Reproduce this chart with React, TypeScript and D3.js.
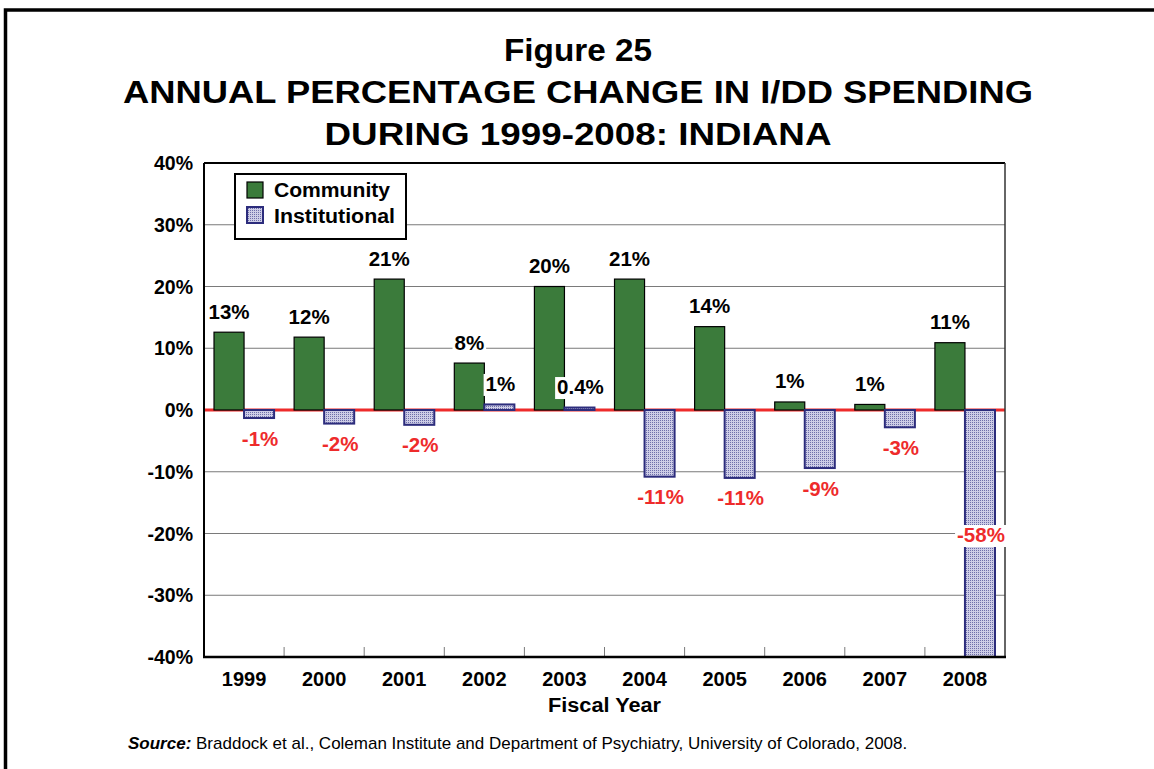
import React from 'react';
import * as d3 from 'd3';

const years = ['1999', '2000', '2001', '2002', '2003', '2004', '2005', '2006', '2007', '2008'];
const community = [12.6, 11.8, 21.2, 7.6, 20.0, 21.2, 13.5, 1.3, 0.9, 10.9];
const institutional = [-1.3, -2.2, -2.4, 0.9, 0.4, -10.8, -11.0, -9.4, -2.8, -58.0];
const communityLabels = ['13%', '12%', '21%', '8%', '20%', '21%', '14%', '1%', '1%', '11%'];
const institutionalLabels = ['-1%', '-2%', '-2%', '1%', '0.4%', '-11%', '-11%', '-9%', '-3%', '-58%'];
const yTicks = [40, 30, 20, 10, 0, -10, -20, -30, -40];
const titleLines = ['Figure 25', 'ANNUAL PERCENTAGE CHANGE IN I/DD SPENDING', 'DURING 1999-2008: INDIANA'];

const FONT = '"Liberation Sans", Arial, Helvetica, sans-serif';
const GREEN = '#3B7B3B';
const NAVY = '#2C2C7C';
const RED = '#EE2B2B';

const charW: Record<string, number> = { '%': 0.889, '-': 0.333, '.': 0.278 };
const textWidth = (s: string, size: number) =>
  s.split('').reduce((a, c) => a + (charW[c] ?? 0.556), 0) * size;

export default function App() {
  const W = 1154, H = 769;
  const left = 204, right = 1005, top = 163, bottom = 657;
  const x = d3.scaleBand<string>().domain(years).range([left, right]).paddingInner(0).paddingOuter(0);
  const y = d3.scaleLinear().domain([-40, 40]).range([bottom, top]).clamp(true);
  const bw = x.bandwidth() * 0.375;
  const fs = 19.5;
  const lfs = 20.5;

  const labels: { text: string; cx: number; base: number; color: string }[] = [];
  years.forEach((yr, i) => {
    const c = x(yr)! + x.bandwidth() / 2;
    const v1 = community[i];
    labels.push({ text: communityLabels[i], cx: c - bw / 2, base: v1 >= 0 ? y(v1) - 13.5 : y(v1) + 27.5, color: '#000' });
    const v2 = institutional[i];
    let base: number;
    if (v2 < -40) base = y((0 + -40) / 2) + 8.5;
    else if (v2 >= 0) base = y(v2) - 13.5;
    else base = y(v2) + 27.5;
    labels.push({ text: institutionalLabels[i], cx: c + bw / 2 + 1, base, color: v2 < 0 ? RED : '#000' });
  });

  const titleLens = [148, 910, 507];

  return (
    <svg width={W} height={H} style={{ position: 'absolute', left: 0, top: 0, background: '#fff' }} fontFamily={FONT}>
      <defs>
        <pattern id="dots" width="2" height="2" patternUnits="userSpaceOnUse">
          <rect width="2" height="2" fill="#CDCDE6" />
          <rect width="1" height="1" fill="#6E6EAA" />
        </pattern>
      </defs>
      <rect x={0} y={0} width={W} height={H} fill="#fff" />
      <rect x={5.5} y={10} width={1300} height={900} fill="none" stroke="#000" strokeWidth={3.5} />

      {titleLines.map((t, i) => (
        <text key={t} x={578} y={[61, 103, 145][i]} textAnchor="middle" fontSize={30.5} fontWeight="bold"
          textLength={titleLens[i]} lengthAdjust="spacingAndGlyphs">
          {t}
        </text>
      ))}

      {/* gridlines */}
      {yTicks.filter(t => t !== 0 && Math.abs(t) !== 40).map(t => (
        <line key={t} x1={left} x2={right} y1={y(t)} y2={y(t)} stroke="#7A7A7A" strokeWidth={1} />
      ))}
      {/* zero line */}
      <line x1={left} x2={right} y1={y(0)} y2={y(0)} stroke={RED} strokeWidth={3} />

      {/* x tick marks */}
      {years.slice(1).map(yr => (
        <line key={yr} x1={x(yr)} x2={x(yr)} y1={bottom} y2={bottom - 10} stroke="#7A7A7A" strokeWidth={1} />
      ))}

      {/* bars */}
      {years.map((yr, i) => {
        const c = x(yr)! + x.bandwidth() / 2;
        const v1 = community[i];
        const v2 = institutional[i];
        return (
          <g key={yr}>
            <rect x={c - bw} y={Math.min(y(v1), y(0))} width={bw} height={Math.abs(y(v1) - y(0))}
              fill={GREEN} stroke="#000" strokeWidth={1.2} />
            <rect x={c} y={Math.min(y(v2), y(0))} width={bw} height={Math.abs(y(v2) - y(0))}
              fill="url(#dots)" stroke={NAVY} strokeWidth={2} />
          </g>
        );
      })}

      {/* frame */}
      <line x1={left} x2={right} y1={top} y2={top} stroke="#000" strokeWidth={2} />
      <line x1={right} x2={right} y1={top} y2={bottom} stroke="#333" strokeWidth={1.5} />
      <line x1={left} x2={left} y1={top} y2={bottom + 1} stroke="#000" strokeWidth={2} />
      <line x1={left - 1} x2={right + 1} y1={bottom} y2={bottom} stroke="#000" strokeWidth={2.5} />

      {/* y tick labels */}
      {yTicks.map(t => (
        <text key={t} x={193} y={y(t) + 7} textAnchor="end" fontSize={fs} fontWeight="bold">{`${t}%`}</text>
      ))}

      {/* x labels */}
      {years.map(yr => (
        <text key={yr} x={x(yr)! + x.bandwidth() / 2} y={686} textAnchor="middle" fontSize={20} fontWeight="bold">{yr}</text>
      ))}
      <text x={(left + right) / 2} y={712} textAnchor="middle" fontSize={fs} fontWeight="bold"
        textLength={113} lengthAdjust="spacingAndGlyphs">Fiscal Year</text>

      {/* data labels */}
      {labels.map((l, i) => {
        const w = textWidth(l.text, lfs);
        return (
          <g key={i}>
            <rect x={l.cx - w / 2 - 2} y={l.base - 17} width={w + 4} height={22} fill="#fff" />
            <text x={l.cx} y={l.base} textAnchor="middle" fontSize={lfs} fontWeight="bold" fill={l.color}>{l.text}</text>
          </g>
        );
      })}

      {/* legend */}
      <rect x={235} y={174} width={171} height={65} fill="#fff" stroke="#000" strokeWidth={2} />
      <rect x={247} y={182} width={16} height={16} fill={GREEN} stroke="#000" strokeWidth={1.2} />
      <rect x={247} y={207} width={16} height={16} fill="url(#dots)" stroke={NAVY} strokeWidth={2} />
      <text x={274} y={197} fontSize={fs} fontWeight="bold" textLength={116} lengthAdjust="spacingAndGlyphs">Community</text>
      <text x={274} y={222.5} fontSize={fs} fontWeight="bold" textLength={121} lengthAdjust="spacingAndGlyphs">Institutional</text>

      {/* source */}
      <text x={128} y={748.5} fontSize={17}>
        <tspan fontWeight="bold" fontStyle="italic">Source:</tspan>
        <tspan> Braddock et al., Coleman Institute and Department of Psychiatry, University of Colorado, 2008.</tspan>
      </text>
    </svg>
  );
}
